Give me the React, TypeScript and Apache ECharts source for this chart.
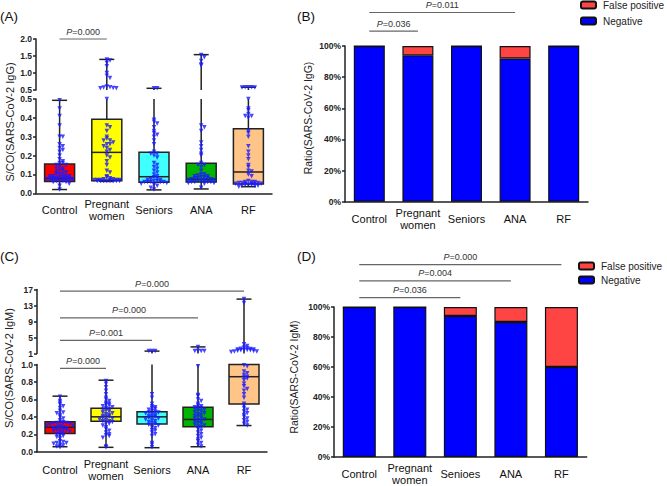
import React, { useEffect, useRef } from "react";
import * as echarts from "echarts";

const FONT = "Liberation Sans, Arial, sans-serif";

// ---------- categories ----------
const catsABC = ["Control", "Pregnant\nwomen", "Seniors", "ANA", "RF"];
const catsD = ["Control", "Pregnant\nwomen", "Senioes", "ANA", "RF"];

// ---------- Panel A: IgG S/CO box stats [min, q1, median, q3, max] ----------
const igGBoxControl = [0.02, 0.062, 0.079, 0.155, 0.493];
const igGBoxPregnant = [0.063, 0.066, 0.217, 0.393, 1.4];
const igGBoxSeniors = [0.018, 0.058, 0.088, 0.218, 0.55];
const igGBoxANA = [0.023, 0.06, 0.075, 0.159, 1.54];
const igGBoxRF = [0.035, 0.049, 0.113, 0.342, 0.58];

const igGControl = [0.493, 0.45, 0.41, 0.36, 0.3, 0.3, 0.26, 0.25, 0.24, 0.23, 0.22, 0.2, 0.18, 0.17, 0.16, 0.16, 0.15, 0.15, 0.14, 0.13, 0.13, 0.12, 0.12, 0.11, 0.11, 0.1, 0.1, 0.1, 0.09, 0.09, 0.09, 0.09, 0.085, 0.085, 0.08, 0.08, 0.08, 0.08, 0.08, 0.075, 0.075, 0.075, 0.075, 0.07, 0.07, 0.07, 0.07, 0.07, 0.065, 0.065, 0.065, 0.06, 0.06, 0.05, 0.04, 0.02];
const igGPregnant = [1.4, 1.37, 1.3, 1.2, 1.0, 0.92, 0.85, 0.6, 0.58, 0.57, 0.56, 0.55, 0.55, 0.5, 0.36, 0.35, 0.33, 0.3, 0.29, 0.28, 0.28, 0.27, 0.26, 0.26, 0.25, 0.24, 0.23, 0.22, 0.2, 0.19, 0.17, 0.15, 0.12, 0.11, 0.09, 0.085, 0.08, 0.075, 0.075, 0.07, 0.07, 0.07, 0.07, 0.07, 0.07, 0.065, 0.065, 0.065, 0.065, 0.065, 0.065, 0.065, 0.065];
const igGSeniors = [0.55, 0.55, 0.39, 0.38, 0.37, 0.35, 0.33, 0.32, 0.31, 0.3, 0.28, 0.26, 0.22, 0.21, 0.21, 0.2, 0.19, 0.16, 0.15, 0.14, 0.13, 0.12, 0.11, 0.1, 0.09, 0.085, 0.08, 0.075, 0.07, 0.07, 0.065, 0.065, 0.06, 0.06, 0.06, 0.06, 0.06, 0.055, 0.05, 0.045, 0.04, 0.03, 0.02];
const igGANA = [1.53, 1.46, 1.35, 1.25, 1.22, 0.36, 0.35, 0.33, 0.27, 0.25, 0.23, 0.21, 0.2, 0.16, 0.15, 0.15, 0.14, 0.12, 0.1, 0.1, 0.095, 0.09, 0.09, 0.085, 0.085, 0.08, 0.08, 0.08, 0.075, 0.075, 0.07, 0.07, 0.07, 0.065, 0.065, 0.065, 0.06, 0.06, 0.06, 0.06, 0.055, 0.055, 0.05, 0.03];
const igGRF = [0.58, 0.58, 0.58, 0.57, 0.57, 0.5, 0.45, 0.44, 0.42, 0.41, 0.41, 0.4, 0.33, 0.32, 0.3, 0.25, 0.22, 0.2, 0.18, 0.15, 0.14, 0.12, 0.115, 0.1, 0.09, 0.065, 0.06, 0.06, 0.06, 0.055, 0.055, 0.055, 0.05, 0.05, 0.05, 0.05, 0.05, 0.045, 0.045, 0.045, 0.04, 0.04, 0.04, 0.035];

// ---------- Panel C: IgM S/CO ----------
const igMBoxControl = [0.057, 0.21, 0.28, 0.343, 0.637];
const igMBoxPregnant = [0.05, 0.35, 0.4, 0.497, 0.82];
const igMBoxSeniors = [0.046, 0.317, 0.4, 0.458, 1.6];
const igMBoxANA = [0.057, 0.286, 0.37, 0.51, 2.65];
const igMBoxRF = [0.3, 0.546, 0.86, 1.0, 14.6];

const igMControl = [0.63, 0.58, 0.56, 0.54, 0.52, 0.5, 0.47, 0.45, 0.44, 0.42, 0.4, 0.38, 0.36, 0.34, 0.33, 0.33, 0.33, 0.33, 0.32, 0.32, 0.31, 0.3, 0.3, 0.29, 0.28, 0.28, 0.27, 0.27, 0.26, 0.25, 0.25, 0.25, 0.24, 0.23, 0.22, 0.21, 0.2, 0.19, 0.18, 0.17, 0.15, 0.12, 0.11, 0.1, 0.1, 0.09, 0.08, 0.07, 0.06, 0.05];
const igMPregnant = [0.81, 0.78, 0.74, 0.7, 0.66, 0.62, 0.6, 0.58, 0.56, 0.55, 0.54, 0.53, 0.52, 0.51, 0.5, 0.49, 0.48, 0.47, 0.46, 0.45, 0.44, 0.43, 0.42, 0.41, 0.4, 0.4, 0.39, 0.38, 0.37, 0.36, 0.35, 0.35, 0.34, 0.33, 0.32, 0.3, 0.28, 0.26, 0.24, 0.22, 0.2, 0.19, 0.18, 0.16, 0.06, 0.05];
const igMSeniors = [1.6, 1.6, 1.6, 0.66, 0.62, 0.55, 0.52, 0.51, 0.5, 0.49, 0.48, 0.47, 0.46, 0.45, 0.45, 0.44, 0.43, 0.42, 0.41, 0.4, 0.4, 0.39, 0.38, 0.37, 0.36, 0.35, 0.34, 0.33, 0.32, 0.31, 0.3, 0.28, 0.27, 0.25, 0.24, 0.22, 0.2, 0.18, 0.1, 0.08, 0.05];
const igMANA = [2.65, 1.6, 1.6, 1.6, 1.6, 0.98, 0.65, 0.64, 0.6, 0.58, 0.55, 0.53, 0.52, 0.51, 0.5, 0.5, 0.49, 0.48, 0.47, 0.46, 0.45, 0.44, 0.43, 0.42, 0.41, 0.4, 0.39, 0.38, 0.37, 0.36, 0.35, 0.34, 0.33, 0.32, 0.31, 0.3, 0.29, 0.28, 0.26, 0.24, 0.22, 0.2, 0.18, 0.16, 0.14, 0.12, 0.1, 0.08, 0.06];
const igMRF = [14.6, 13.6, 3.3, 2.9, 2.5, 2.3, 2.2, 2.1, 2.0, 2.0, 1.9, 1.9, 1.8, 1.8, 1.7, 1.6, 1.5, 1.5, 1.4, 0.99, 0.98, 0.92, 0.9, 0.88, 0.86, 0.85, 0.84, 0.82, 0.78, 0.75, 0.72, 0.7, 0.66, 0.62, 0.55, 0.53, 0.5, 0.48, 0.46, 0.44, 0.42, 0.4, 0.38, 0.36, 0.34, 0.32, 0.3];

// ---------- Panels B / D: ratios (%) ----------
const igGNegative = [100, 94, 100, 92, 100];
const igGFalsePositive = [0, 6, 0, 8, 0];
const igMNegative = [100, 100, 94, 90, 60];
const igMFalsePositive = [0, 0, 6, 10, 40];

// ---------- significance annotations ----------
const annAFrom = [0];
const annATo = [1];
const annALevel = [2.0];
const annAText = ["0.000"];

const annBFrom = [0, 0];
const annBTo = [1, 3];
const annBLevel = [109.5, 121.5];
const annBText = ["0.036", "0.011"];

const annCUpFrom = [0, 0, 0];
const annCUpTo = [4, 3, 2];
const annCUpLevel = [16.6, 9.9, 4.3];
const annCUpText = ["0.000", "0.000", "0.001"];
const annCLowFrom = [0];
const annCLowTo = [1];
const annCLowLevel = [0.955];
const annCLowText = ["0.000"];

const annDFrom = [0, 0, 0];
const annDTo = [4, 3, 2];
const annDLevel = [128.2, 117.4, 106.2];
const annDText = ["0.000", "0.004", "0.036"];

const boxColors = ["#ff0000", "#ffff00", "#40ffff", "#00b400", "#ffc488"];
const NEG = "#0000ff";
const FP = "#ff4444";
const DOT = "#1a1aff";

function swarmOffsets(values: number[], bin: number) {
  const counts = new Map<number, number>();
  return values.map((v) => {
    const key = Math.round(v / bin);
    const k = counts.get(key) || 0;
    counts.set(key, k + 1);
    let mag = Math.ceil(k / 2) * 3.2;
    while (mag > 14) mag -= 12.8;
    return k % 2 ? mag : -mag;
  });
}

function scatterData(groups: number[][], lo: number, hi: number, bin: number) {
  const out: any[] = [];
  groups.forEach((vals, ci) => {
    const sel = vals.filter((v) => v > lo - 1e-9 && v <= hi + 1e-9 && !(lo > 0 && v <= lo));
    const offs = swarmOffsets(sel, bin);
    sel.forEach((v, i) => out.push({ value: [ci, v], symbolOffset: [offs[i], 0] }));
  });
  return out;
}

function boxSeries(grid: number, boxes: number[][], lo: number, hi: number) {
  return {
    type: "custom",
    xAxisIndex: grid,
    yAxisIndex: grid,
    z: 2,
    silent: true,
    data: boxes.map((b, i) => [i, ...b]),
    encode: { x: 0, y: [1, 2, 3, 4, 5] },
    renderItem: (params: any, api: any) => {
      const ci = api.value(0);
      const [mn, q1, md, q3, mx] = boxes[ci];
      const cx = api.coord([ci, lo])[0];
      const py = (v: number) => api.coord([ci, v])[1];
      const hw = 15;
      const cw = 7.5;
      const stroke = { stroke: "#222", lineWidth: 1.5 };
      const ch: any[] = [];
      const wA = Math.max(mn, lo);
      const wB = Math.min(mx, hi);
      if (wA < wB) ch.push({ type: "line", shape: { x1: cx, y1: py(wA), x2: cx, y2: py(wB) }, style: stroke });
      if (mn >= lo && mn <= hi) ch.push({ type: "line", shape: { x1: cx - cw, y1: py(mn), x2: cx + cw, y2: py(mn) }, style: stroke });
      if (mx >= lo && mx <= hi) ch.push({ type: "line", shape: { x1: cx - cw, y1: py(mx), x2: cx + cw, y2: py(mx) }, style: stroke });
      const bA = Math.max(q1, lo);
      const bB = Math.min(q3, hi);
      if (bA < bB) {
        const yt = py(bB);
        const yb = py(bA);
        ch.push({ type: "rect", shape: { x: cx - hw, y: yt, width: 2 * hw, height: yb - yt }, style: { fill: boxColors[ci], stroke: "#222", lineWidth: 1.5 } });
      }
      if (md >= lo && md <= hi) ch.push({ type: "line", shape: { x1: cx - hw, y1: py(md), x2: cx + hw, y2: py(md) }, style: stroke });
      return { type: "group", children: ch };
    },
  };
}

function annSeries(grid: number, from: number[], to: number[], level: number[], text: string[]) {
  return {
    type: "custom",
    xAxisIndex: grid,
    yAxisIndex: grid,
    clip: false,
    silent: true,
    z: 5,
    data: from.map((f, i) => [f, level[i]]),
    encode: { x: 0, y: 1 },
    renderItem: (params: any, api: any) => {
      const i = params.dataIndex;
      const p0 = api.coord([from[i], level[i]]);
      const p1 = api.coord([to[i], level[i]]);
      return {
        type: "group",
        children: [
          { type: "line", shape: { x1: p0[0], y1: p0[1], x2: p1[0], y2: p1[1] }, style: { stroke: "#666", lineWidth: 1.2 } },
          {
            type: "text",
            x: (p0[0] + p1[0]) / 2,
            y: p0[1] - 3,
            style: {
              text: "{i|P}=" + text[i],
              rich: { i: { fontStyle: "italic", fontFamily: FONT, fontSize: 9, fill: "#333" } },
              fontFamily: FONT,
              fontSize: 9,
              fill: "#333",
              align: "center",
              verticalAlign: "bottom",
            },
          },
        ],
      };
    },
  };
}

function scatterSeries(grid: number, data: any[]) {
  return {
    type: "scatter",
    xAxisIndex: grid,
    yAxisIndex: grid,
    z: 3,
    silent: true,
    symbol: "triangle",
    symbolRotate: 180,
    symbolSize: 4.5,
    itemStyle: { color: DOT },
    data,
  };
}

const axisLineStyle = { color: "#222", width: 1.5 };

function yAxis(grid: number, min: number, max: number, interval: number, fmt: (v: number) => string) {
  return {
    type: "value",
    gridIndex: grid,
    min,
    max,
    interval,
    axisLine: { show: true, lineStyle: axisLineStyle },
    axisTick: { show: true, length: 3, lineStyle: axisLineStyle },
    splitLine: { show: false },
    axisLabel: { fontFamily: FONT, fontWeight: "bold", fontSize: 8.5, color: "#222", margin: 4, formatter: fmt },
  };
}

function xAxis(grid: number, cats: string[], show: boolean, margin = 17) {
  return {
    type: "category",
    gridIndex: grid,
    data: cats,
    axisLine: { show, lineStyle: axisLineStyle },
    axisTick: { show: false },
    axisLabel: {
      show,
      interval: 0,
      fontFamily: FONT,
      fontSize: 11,
      lineHeight: 12,
      color: "#111",
      verticalAlign: "middle",
      margin,
    },
    splitLine: { show: false },
  };
}

function titleText(x: number, y: number, text: string, size: number) {
  return {
    type: "text",
    x,
    y,
    rotation: Math.PI / 2,
    style: { text, fontFamily: FONT, fontSize: size, fill: "#222", align: "center", verticalAlign: "middle" },
  };
}

function letter(x: number, y: number, text: string) {
  return { type: "text", x, y, style: { text, fontFamily: FONT, fontSize: 13.5, fill: "#111", verticalAlign: "middle" } };
}

function legendAt(left: number, top: number, gap: number) {
  return {
    left,
    top,
    padding: 0,
    orient: "vertical",
    itemWidth: 15,
    itemHeight: 7,
    itemGap: gap,
    data: ["False positive", "Negative"],
    textStyle: { fontFamily: FONT, fontSize: 10, color: "#222", padding: [0, 0, 0, 2] },
    selectedMode: false,
  };
}

export default function App() {
  const ref = useRef<HTMLDivElement>(null);
  useEffect(() => {
    if (!ref.current) return;
    const chart = echarts.init(ref.current, undefined, { renderer: "svg" });
    const igGGroups = [igGControl, igGPregnant, igGSeniors, igGANA, igGRF];
    const igMGroups = [igMControl, igMPregnant, igMSeniors, igMANA, igMRF];
    const igGBoxes = [igGBoxControl, igGBoxPregnant, igGBoxSeniors, igGBoxANA, igGBoxRF];
    const igMBoxes = [igMBoxControl, igMBoxPregnant, igMBoxSeniors, igMBoxANA, igMBoxRF];

    const f1 = (v: number) => v.toFixed(1);
    const fi = (v: number) => String(Math.round(v));
    const fp = (v: number) => v + "%";

    const barItem = (color: string) => ({ color, borderColor: "#111", borderWidth: 1.2 });

    chart.setOption({
      animation: false,
      textStyle: { fontFamily: FONT },
      grid: [
        { left: 36, top: 39, width: 236, height: 51 }, // 0 A upper
        { left: 36, top: 99, width: 236, height: 94.3 }, // 1 A lower
        { left: 345, top: 46, width: 243, height: 155.7 }, // 2 B
        { left: 37, top: 289.5, width: 230, height: 64 }, // 3 C upper
        { left: 37, top: 364.5, width: 230, height: 87.2 }, // 4 C lower
        { left: 334, top: 307, width: 252.7, height: 151.5 }, // 5 D
      ],
      xAxis: [
        xAxis(0, catsABC, false),
        xAxis(1, catsABC, true, 17),
        xAxis(2, catsABC, true, 17),
        xAxis(3, catsABC, false),
        xAxis(4, catsABC, true, 18),
        xAxis(5, catsD, true, 17),
      ],
      yAxis: [
        yAxis(0, 0.5, 2.0, 0.5, f1),
        yAxis(1, 0, 0.5, 0.1, f1),
        yAxis(2, 0, 100, 20, fp),
        yAxis(3, 1, 17, 4, fi),
        yAxis(4, 0, 1, 0.2, f1),
        yAxis(5, 0, 100, 20, fp),
      ],
      legend: [legendAt(580, 0, 6), legendAt(578, 261, 4)],
      graphic: [
        letter(0, 16, "(A)"),
        letter(297, 16, "(B)"),
        letter(0, 256, "(C)"),
        letter(297, 256, "(D)"),
        titleText(10, 122, "S/CO(SARS-CoV-2 IgG)", 11),
        titleText(308, 118, "Ratio(SARS-CoV-2 IgG)", 10.5),
        titleText(9, 368, "S/CO(SARS-CoV-2 IgM)", 11),
        titleText(294, 377, "Ratio(SARS-CoV-2 IgM)", 10.5),
      ],
      series: [
        boxSeries(0, igGBoxes, 0.5, 2.0),
        boxSeries(1, igGBoxes, 0, 0.5),
        scatterSeries(0, scatterData(igGGroups, 0.5, 2.0, 0.1)),
        scatterSeries(1, scatterData(igGGroups, 0, 0.5, 0.02)),
        annSeries(0, annAFrom, annATo, annALevel, annAText),

        {
          name: "Negative",
          type: "bar",
          xAxisIndex: 2,
          yAxisIndex: 2,
          stack: "b",
          barWidth: 31,
          itemStyle: barItem(NEG),
          data: igGNegative,
        },
        {
          name: "False positive",
          type: "bar",
          xAxisIndex: 2,
          yAxisIndex: 2,
          stack: "b",
          barWidth: 31,
          itemStyle: barItem(FP),
          data: igGFalsePositive,
        },
        annSeries(2, annBFrom, annBTo, annBLevel, annBText),

        boxSeries(3, igMBoxes, 1, 17),
        boxSeries(4, igMBoxes, 0, 1),
        scatterSeries(3, scatterData(igMGroups, 1, 17, 0.8)),
        scatterSeries(4, scatterData(igMGroups, 0, 1, 0.035)),
        annSeries(3, annCUpFrom, annCUpTo, annCUpLevel, annCUpText),
        annSeries(4, annCLowFrom, annCLowTo, annCLowLevel, annCLowText),

        {
          name: "Negative",
          type: "bar",
          xAxisIndex: 5,
          yAxisIndex: 5,
          stack: "d",
          barWidth: 33,
          itemStyle: barItem(NEG),
          data: igMNegative,
        },
        {
          name: "False positive",
          type: "bar",
          xAxisIndex: 5,
          yAxisIndex: 5,
          stack: "d",
          barWidth: 33,
          itemStyle: barItem(FP),
          data: igMFalsePositive,
        },
        annSeries(5, annDFrom, annDTo, annDLevel, annDText),
      ],
    });
    return () => chart.dispose();
  }, []);
  return <div ref={ref} style={{ width: 667, height: 486, position: "absolute", left: 0, top: 0, background: "#fff" }} />;
}
